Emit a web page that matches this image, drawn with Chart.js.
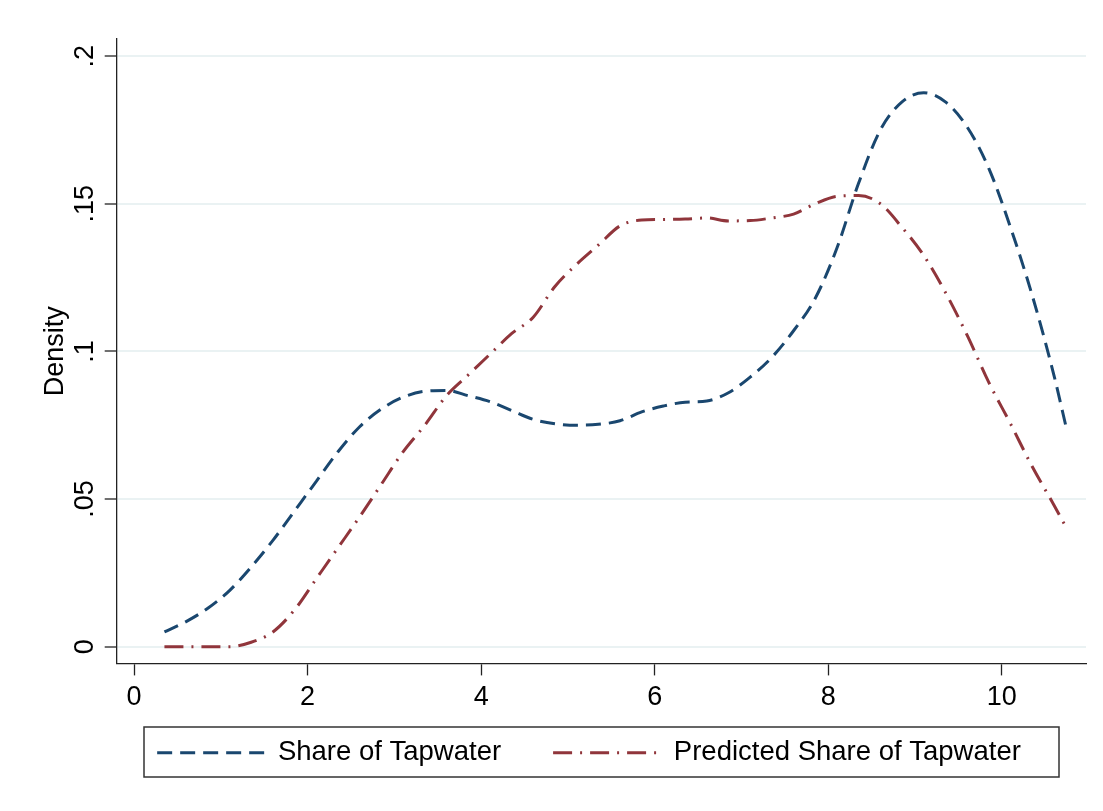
<!DOCTYPE html>
<html>
<head>
<meta charset="utf-8">
<script src="https://cdn.jsdelivr.net/npm/chart.js@4.4.1/dist/chart.umd.min.js"></script>
<style>
  html, body { margin: 0; padding: 0; background: #ffffff; }
  #wrap { width: 1103px; height: 811px; position: relative; }
</style>
</head>
<body>
<div id="wrap"><canvas id="c" width="1103" height="811"></canvas></div>
<script>
// ---- data ----
const xValues = [0.35,0.6,0.85,1.1,1.35,1.6,1.85,2.1,2.35,2.6,2.85,3.1,3.35,3.6,3.85,4.1,4.35,4.6,4.85,5.1,5.35,5.6,5.85,6.1,6.35,6.6,6.85,7.1,7.35,7.6,7.85,8.1,8.35,8.6,8.85,9.1,9.35,9.6,9.85,10.1,10.35,10.6,10.75];
const shareTapwater = [0.005,0.0085,0.013,0.019,0.027,0.036,0.046,0.056,0.066,0.0745,0.0805,0.0845,0.0865,0.0868,0.085,0.083,0.080,0.077,0.0755,0.075,0.0753,0.0765,0.0795,0.0815,0.0828,0.0832,0.086,0.0913,0.098,0.107,0.118,0.135,0.157,0.175,0.1845,0.1876,0.1845,0.176,0.162,0.142,0.119,0.092,0.0732];
const predictedShare = [0,0,0,0,0.0015,0.005,0.0125,0.023,0.0335,0.044,0.055,0.066,0.075,0.085,0.092,0.099,0.106,0.1116,0.122,0.1295,0.136,0.1425,0.1445,0.1447,0.1448,0.1452,0.1442,0.1443,0.1452,0.1465,0.150,0.1525,0.1528,0.150,0.142,0.1325,0.120,0.1055,0.0895,0.0755,0.061,0.048,0.0399];
const seriesNames = ['Share of Tapwater', 'Predicted Share of Tapwater'];
const xTickValues = [0, 2, 4, 6, 8, 10];
const xTickLabels = ['0', '2', '4', '6', '8', '10'];
const yTickValues = [0, 0.05, 0.1, 0.15, 0.2];
const yTickLabels = ['0', '.05', '.1', '.15', '.2'];
const yAxisTitle = 'Density';

// ---- styles ----
const FONT = 'Liberation Sans, Arial, sans-serif';
const BLUE = '#1a476f';
const RED = '#90353b';
const AXIS = '#222222';
const LEGEND_BOX_W = 107;

const toPts = (ys) => xValues.map((x, i) => ({ x: x, y: ys[i] }));

const legendFrame = {
  id: 'legendFrame',
  afterLayout(chart) {
    const lg = chart.legend;
    if (lg) {
      lg.left += 46; lg.right += 46;
      lg.top -= 28.45; lg.bottom -= 28.45;
    }
  },
  afterDraw(chart) {
    const ctx = chart.ctx;
    const ca = chart.chartArea;
    const lg = chart.legend;
    ctx.save();
    // legend sample lines, styled like their datasets
    (lg.legendHitBoxes || []).forEach((hb, i) => {
      const ds = chart.data.datasets[i];
      ctx.beginPath();
      ctx.setLineDash(ds.borderDash || []);
      ctx.lineDashOffset = 0;
      ctx.lineCap = 'butt';
      ctx.strokeStyle = ds.borderColor;
      ctx.lineWidth = ds.borderWidth;
      const y = hb.top + hb.height / 2;
      ctx.moveTo(hb.left, y);
      ctx.lineTo(hb.left + LEGEND_BOX_W, y);
      ctx.stroke();
    });
    // legend frame
    ctx.setLineDash([]);
    ctx.strokeStyle = '#333333';
    ctx.lineWidth = 1.5;
    ctx.strokeRect(ca.left + 27.3, 727, (ca.right - 27) - (ca.left + 27.3), 50);
    ctx.restore();
  }
};

new Chart(document.getElementById('c'), {
  type: 'line',
  data: {
    datasets: [
      {
        label: seriesNames[0],
        data: toPts(shareTapwater),
        borderColor: BLUE,
        backgroundColor: BLUE,
        borderWidth: 3,
        borderDash: [15, 8],
        pointRadius: 0,
        fill: false,
        cubicInterpolationMode: 'monotone'
      },
      {
        label: seriesNames[1],
        data: toPts(predictedShare),
        borderColor: RED,
        backgroundColor: RED,
        borderWidth: 3,
        borderDash: [19, 8, 2, 8],
        pointRadius: 0,
        fill: false,
        cubicInterpolationMode: 'monotone'
      }
    ]
  },
  options: {
    responsive: false,
    animation: false,
    layout: { padding: { top: 39, right: 17, bottom: 6.1, left: 0 } },
    plugins: {
      tooltip: { enabled: false },
      legend: {
        position: 'bottom',
        align: 'center',
        labels: {
          boxWidth: LEGEND_BOX_W,
          boxHeight: 0,
          padding: 52,
          color: '#000000',
          font: { family: FONT, size: 27.5 },
          generateLabels: (chart) => Chart.defaults.plugins.legend.labels.generateLabels(chart).map(it => Object.assign(it, {
            fillStyle: 'rgba(0,0,0,0)', strokeStyle: 'rgba(0,0,0,0)', lineWidth: 0
          }))
        }
      }
    },
    scales: {
      x: {
        type: 'linear',
        min: -0.2,
        max: 10.97,
        afterBuildTicks: (s) => { s.ticks = xTickValues.map(v => ({ value: v })); },
        afterFit: (s) => { s.height = 52; },
        ticks: {
          autoSkip: false,
          maxRotation: 0,
          padding: 6,
          color: '#000000',
          font: { family: FONT, size: 27 },
          callback: (v) => xTickLabels[xTickValues.indexOf(v)]
        },
        grid: {
          drawOnChartArea: false,
          drawTicks: true,
          tickLength: 12,
          tickColor: AXIS,
          tickWidth: 1.3
        },
        border: { display: true, color: AXIS, width: 1.3 }
      },
      y: {
        type: 'linear',
        min: -0.00566,
        max: 0.2058,
        afterBuildTicks: (s) => { s.ticks = yTickValues.map(v => ({ value: v })); },
        afterFit: (s) => { s.width = 116.7; },
        ticks: {
          autoSkip: false,
          minRotation: 90,
          maxRotation: 90,
          crossAlign: 'center',
          padding: 0,
          color: '#000000',
          font: { family: FONT, size: 27 },
          callback: (v) => yTickLabels[yTickValues.indexOf(v)]
        },
        grid: {
          color: '#eaf2f3',
          lineWidth: 2,
          drawTicks: true,
          tickLength: 12,
          tickColor: AXIS,
          tickWidth: 1.3
        },
        border: { display: true, color: AXIS, width: 1.3 },
        title: {
          display: true,
          text: yAxisTitle,
          color: '#000000',
          font: { family: FONT, size: 27 },
          padding: { top: 39, bottom: 0 }
        }
      }
    }
  },
  plugins: [legendFrame]
});
</script>
</body>
</html>
